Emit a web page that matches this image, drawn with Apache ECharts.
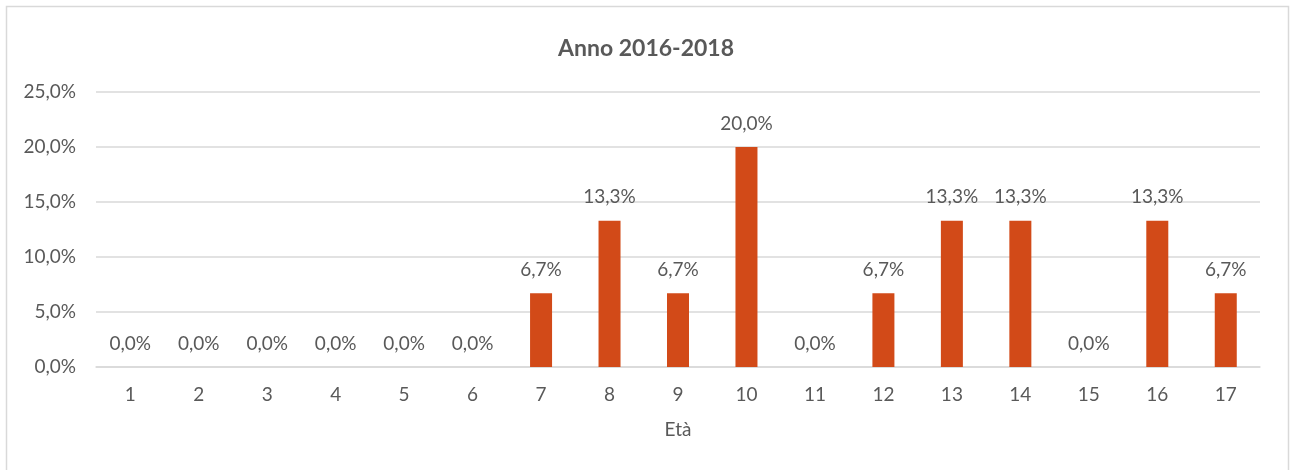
<!DOCTYPE html>
<html>
<head>
<meta charset="utf-8">
<script src="https://cdn.jsdelivr.net/npm/echarts@6/dist/echarts.min.js"></script>
<style>
  html, body { margin: 0; padding: 0; background: #fff; }
  #chart { width: 1292px; height: 470px; }
</style>
</head>
<body>
<div id="chart"></div>
<script>
// Età categories and share of total per age (percent)
const categories = ['1','2','3','4','5','6','7','8','9','10','11','12','13','14','15','16','17'];
const values = [0, 0, 0, 0, 0, 0, 6.7, 13.3, 6.7, 20.0, 0, 6.7, 13.3, 13.3, 0, 13.3, 6.7];
const yTicks = { min: 0, max: 25, interval: 5 };

const FONT = 'Lato, "Open Sans", sans-serif';
const TEXT = '#595959';
const FS = 19;
const fmtPct = v => v.toFixed(1).replace('.', ',') + '%';

const chart = echarts.init(document.getElementById('chart'), null, { renderer: 'canvas' });
chart.setOption({
  animation: false,
  backgroundColor: '#ffffff',
  textStyle: { fontFamily: FONT },
  title: {
    text: 'Anno 2016-2018',
    left: 'center',
    top: 32,
    textStyle: { fontFamily: FONT, fontSize: 23, fontWeight: 'bold', color: TEXT }
  },
  graphic: [{
    type: 'rect',
    shape: { x: 6.5, y: 6.5, width: 1282, height: 520 },
    style: { fill: 'none', stroke: '#d9d9d9', lineWidth: 1.5 },
    silent: true
  }],
  grid: { left: 96, right: 32, top: 92, bottom: 103 },
  xAxis: {
    type: 'category',
    data: categories,
    name: 'Età',
    nameLocation: 'middle',
    nameGap: 53,
    nameTextStyle: { fontFamily: FONT, fontSize: FS, color: TEXT },
    axisLine: { show: true, lineStyle: { color: '#d9d9d9', width: 1.5 } },
    axisTick: { show: false },
    axisLabel: { fontFamily: FONT, fontSize: FS, color: TEXT, margin: 18 }
  },
  yAxis: {
    type: 'value',
    min: yTicks.min,
    max: yTicks.max,
    interval: yTicks.interval,
    axisLine: { show: false },
    axisTick: { show: false },
    splitLine: { lineStyle: { color: '#d9d9d9', width: 1.5 } },
    axisLabel: { fontFamily: FONT, fontSize: FS, color: TEXT, margin: 20, formatter: fmtPct }
  },
  series: [{
    type: 'bar',
    data: values,
    barWidth: 22,
    itemStyle: { color: '#D24A18' },
    label: {
      show: true,
      position: 'top',
      distance: 14,
      fontFamily: FONT,
      fontSize: FS,
      color: TEXT,
      formatter: p => fmtPct(p.value)
    }
  }]
});
</script>
</body>
</html>
